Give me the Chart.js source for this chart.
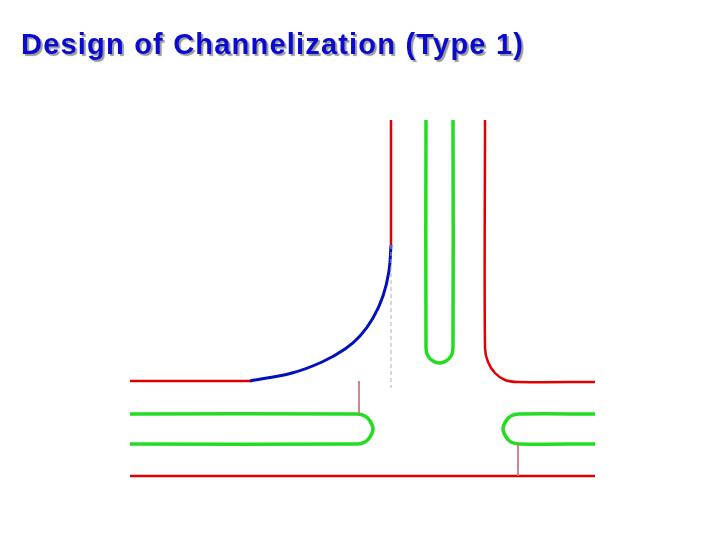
<!DOCTYPE html>
<html><head><meta charset="utf-8">
<script src="https://cdn.jsdelivr.net/npm/chart.js@4"></script>
<style>
html,body{margin:0;padding:0;background:#fff;}
#wrap{position:relative;width:720px;height:540px;}
#title{position:absolute;left:21px;top:28px;font:bold 29px "Liberation Sans",Arial,sans-serif;letter-spacing:1.2px;color:#0a0ad0;text-shadow:2px 2px 1px #9a9a9a;white-space:nowrap;}
canvas{position:absolute;left:0;top:0;}
</style></head><body>
<div id="wrap"><canvas id="c" width="720" height="540"></canvas><div id="title">Design of Channelization (Type 1)</div></div>
<script>
const redTopLeft=[[391,120],[391,245]];
const blueCurve=[[391,245],[389,271],[383,296],[373,318],[360,336],[345,349],[322,362],[292,373],[250,381]];
const redLeft=[[130,381],[250,381]];
const greenLeftIsland=[[130,414],[357,414],[365,416],[370,421],[373,429],[370,437],[365,442],[357,444],[130,444]];
const greenRightIsland=[[595,414],[519,414],[511,416],[506,421],[503,429],[506,437],[511,442],[519,444],[595,444]];
const redBottom=[[130,476],[595,476]];
const greenVertical=[[426,120],[426,348],[428,356],[433,361],[439.5,363],[446,361],[451,356],[453,348],[453,120]];
const redRight=[[485,120],[485,348],[488,362],[495,373],[505,380],[518,382],[595,382]];
const pinkLeft=[[359,381],[359,414]];
const pinkRight=[[518,444],[518,476]];
const grayDash=[[391,245],[391,388]];
const pts=a=>a.map(p=>({x:p[0],y:p[1]}));
const ds=(d,c,w,t,dash)=>({data:pts(d),showLine:true,borderColor:c,borderWidth:w,pointRadius:0,tension:t||0,borderDash:dash||[],fill:false});
new Chart(document.getElementById('c'),{type:'scatter',
data:{datasets:[
ds(grayDash,'#b0b0b0',1,0,[4,3]),
ds(pinkLeft,'#d07080',1),ds(pinkRight,'#d07080',1),
ds(redTopLeft,'#e00000',2.5),ds(redLeft,'#e00000',2.5),ds(redBottom,'#e00000',2.5),
ds(redRight,'#e00000',2.5,0.3),
ds(greenLeftIsland,'#22dd22',3.5,0.3),ds(greenRightIsland,'#22dd22',3.5,0.3),ds(greenVertical,'#22dd22',3.5,0.3),
ds(blueCurve,'#0010c0',3,0.4)
]},
options:{responsive:false,animation:false,layout:{padding:0},
plugins:{legend:{display:false},tooltip:{enabled:false}},
scales:{x:{type:'linear',min:0,max:720,display:false},y:{type:'linear',min:0,max:540,reverse:true,display:false}}}});
</script></body></html>
